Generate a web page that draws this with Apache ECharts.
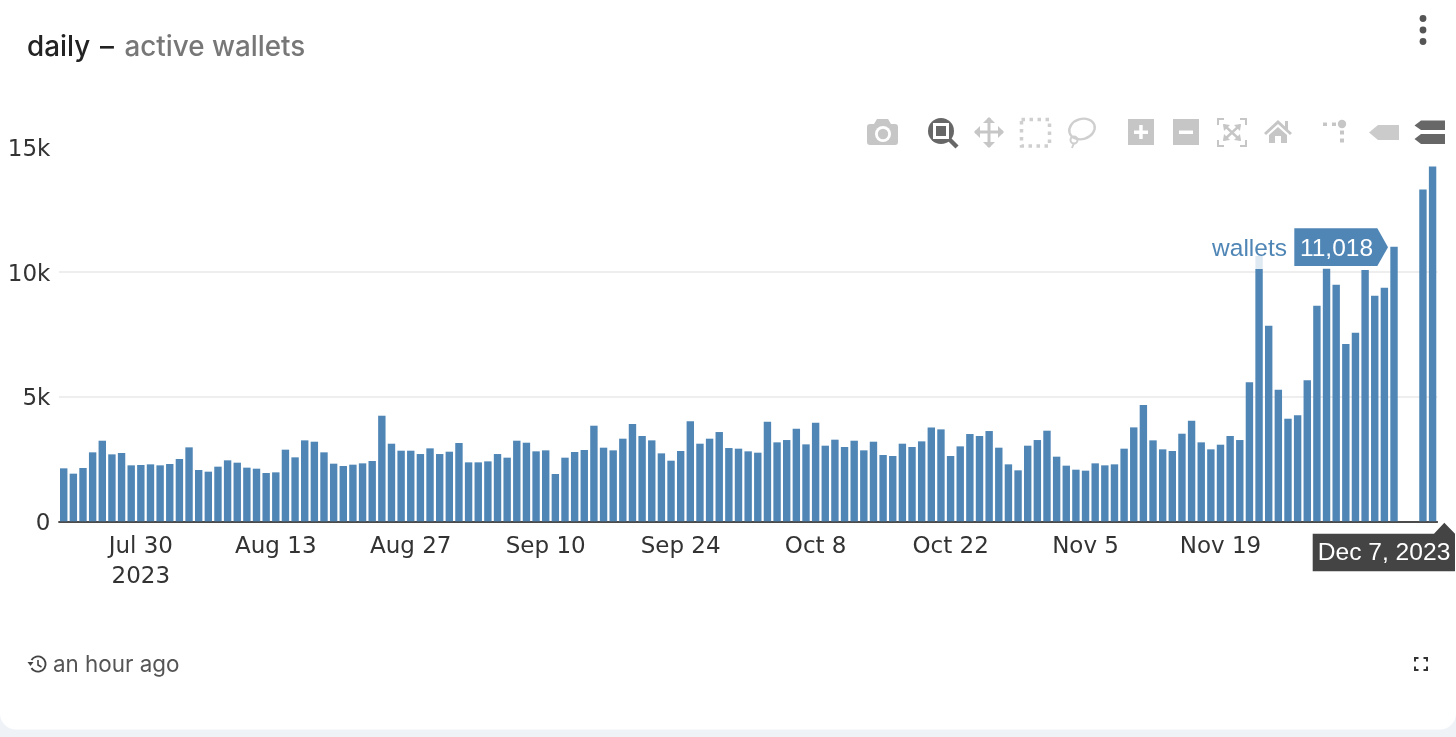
<!DOCTYPE html>
<html>
<head>
<meta charset="utf-8">
<style>
html,body{margin:0;padding:0;width:1456px;height:737px;overflow:hidden;background:#eff3f7}
#c{width:1456px;height:737px}
</style>
<script src="https://cdn.jsdelivr.net/npm/echarts@6/dist/echarts.min.js"></script>
</head>
<body>
<div id="c"></div>
<script>
const categories = [
"Jul 22","Jul 23","Jul 24","Jul 25","Jul 26","Jul 27","Jul 28","Jul 29","Jul 30","Jul 31",
"Aug 1","Aug 2","Aug 3","Aug 4","Aug 5","Aug 6","Aug 7","Aug 8","Aug 9","Aug 10","Aug 11","Aug 12","Aug 13","Aug 14","Aug 15","Aug 16","Aug 17","Aug 18","Aug 19","Aug 20","Aug 21","Aug 22","Aug 23","Aug 24","Aug 25","Aug 26","Aug 27","Aug 28","Aug 29","Aug 30","Aug 31",
"Sep 1","Sep 2","Sep 3","Sep 4","Sep 5","Sep 6","Sep 7","Sep 8","Sep 9","Sep 10","Sep 11","Sep 12","Sep 13","Sep 14","Sep 15","Sep 16","Sep 17","Sep 18","Sep 19","Sep 20","Sep 21","Sep 22","Sep 23","Sep 24","Sep 25","Sep 26","Sep 27","Sep 28","Sep 29","Sep 30",
"Oct 1","Oct 2","Oct 3","Oct 4","Oct 5","Oct 6","Oct 7","Oct 8","Oct 9","Oct 10","Oct 11","Oct 12","Oct 13","Oct 14","Oct 15","Oct 16","Oct 17","Oct 18","Oct 19","Oct 20","Oct 21","Oct 22","Oct 23","Oct 24","Oct 25","Oct 26","Oct 27","Oct 28","Oct 29","Oct 30","Oct 31",
"Nov 1","Nov 2","Nov 3","Nov 4","Nov 5","Nov 6","Nov 7","Nov 8","Nov 9","Nov 10","Nov 11","Nov 12","Nov 13","Nov 14","Nov 15","Nov 16","Nov 17","Nov 18","Nov 19","Nov 20","Nov 21","Nov 22","Nov 23","Nov 24","Nov 25","Nov 26","Nov 27","Nov 28","Nov 29","Nov 30",
"Dec 1","Dec 2","Dec 3","Dec 4","Dec 5","Dec 6","Dec 7","Dec 8","Dec 9","Dec 10","Dec 11"];
const wallets = [
2126,1912,2139,2768,3235,2687,2741,2246,2260,2286,2246,2300,2500,2968,2059,1992,2193,2447,2353,2153,
2112,1939,1965,2875,2567,3249,3195,2768,2313,2219,2273,2326,2420,4238,3115,2834,2834,2700,2928,2700,
2794,3142,2366,2366,2406,2700,2554,3235,3155,2808,2848,1899,2554,2781,2861,3837,2955,2848,3316,3904,
3423,3249,2727,2433,2821,4011,3115,3316,3583,2941,2915,2808,2754,3998,3169,3262,3717,3088,3958,3035,
3276,2982,3235,2848,3195,2661,2621,3115,2982,3209,3770,3690,2621,3008,3503,3423,3623,2955,2286,2046,
3035,3262,3637,2594,2233,2072,2032,2326,2246,2286,2915,3770,4666,3249,2888,2821,3516,4038,3169,2888,
3075,3423,3262,5577,10650,7850,5283,4118,4252,5658,8652,10136,9495,7115,7568,10084,9053,9374,11018,0,
0,13323,14246];
const xTickLabels = {"Jul 30":"Jul 30\n2023","Aug 13":"Aug 13","Aug 27":"Aug 27","Sep 10":"Sep 10","Sep 24":"Sep 24","Oct 8":"Oct 8","Oct 22":"Oct 22","Nov 5":"Nov 5","Nov 19":"Nov 19"};
const yTickLabels = {0:"0",5000:"5k",10000:"10k",15000:"15k"};
const seriesName = "wallets";

const L='#c6c6c6', D='#676767', BLUE='#4f86b6';
const sq=(x,y,w,h,f)=>({type:'rect',shape:{x,y,width:w,height:h},style:{fill:f},z:50});
const ln=(x1,y1,x2,y2,c,w)=>({type:'line',shape:{x1,y1,x2,y2},style:{stroke:c,lineWidth:w,lineCap:'butt'},z:50});
const circ=(cx,cy,r,f)=>({type:'circle',shape:{cx,cy,r},style:{fill:f},z:50});
const poly=(points,f)=>({type:'polygon',shape:{points},style:{fill:f},z:50});
const pline=(points,c,w)=>({type:'polyline',shape:{points},style:{stroke:c,lineWidth:w,fill:null},z:50});
const txt=(x,y,text,font,fill,align)=>({type:'text',x,y,style:{text,font,fill,align:align||'left',verticalAlign:'middle'},z:60});
const corners=(x0,y0,x1,y1,l,c,w)=>[
 pline([[x0,y0+l],[x0,y0],[x0+l,y0]],c,w),pline([[x1-l,y0],[x1,y0],[x1,y0+l]],c,w),
 pline([[x0,y1-l],[x0,y1],[x0+l,y1]],c,w),pline([[x1-l,y1],[x1,y1],[x1,y1-l]],c,w)];

const graphics = [
 {type:'rect',shape:{x:0,y:-30,width:1456,height:759.5,r:16},style:{fill:'#fff'},z:-10,silent:true},
 // title
 txt(27,48,'daily','500 27.8px Inter','#222'),
 txt(100,48,'–','500 27.8px Inter','#222'),
 txt(124.5,48,'active wallets','500 27.8px Inter','#777'),
 // menu dots
 circ(1423,18.5,3.4,'#555'),circ(1423,30,3.4,'#555'),circ(1423,41.5,3.4,'#555'),
 // camera
 {type:'rect',shape:{x:867,y:124,width:31,height:21,r:3},style:{fill:L},z:50},
 poly([[874,124],[877,119],[888,119],[891,124]],L),
 circ(883,134,8,'#fff'),circ(883,134,5.2,L),
 // zoom (active)
 ln(949,139,957,147,D,4.5),
 circ(941,131,13,D),sq(933,123,16,16,'#fff'),sq(936,126,10,10,D),
 // pan
 ln(975,132,1003,132,L,3),ln(989,118,989,147,L,3),
 poly([[974,132],[980,126],[980,138]],L),poly([[1004,132],[998,126],[998,138]],L),
 poly([[989,117],[983,123],[995,123]],L),poly([[989,148],[983,142],[995,142]],L),
 // box select
 {type:'rect',shape:{x:1021.5,y:119.5,width:28,height:26.5},style:{fill:null,stroke:'#cfcfcf',lineWidth:3.5,lineDash:[3.5,4.5]},z:50},
 // lasso
 {type:'ellipse',shape:{cx:1082,cy:129,rx:13,ry:10},rotation:0.3,originX:1082,originY:129,style:{fill:null,stroke:'#cfcfcf',lineWidth:2.4},z:50},
 {type:'circle',shape:{cx:1074,cy:140,r:3.5},style:{fill:null,stroke:'#cfcfcf',lineWidth:2},z:50},
 ln(1074,143,1072,148,'#cfcfcf',2),
 // zoom in
 sq(1128,119,26,26,L),sq(1134,130.5,14,3.5,'#fff'),sq(1139.2,125,3.5,14,'#fff'),
 // zoom out
 sq(1173,119,26,26,L),sq(1179,130.5,14,3.5,'#fff'),
 // autoscale
 ...corners(1218,119,1246,146,6,L,2),
 ln(1224,125,1240,140,L,2.4),ln(1240,125,1224,140,L,2.4),
 poly([[1223,124],[1230,125],[1224,131]],L),poly([[1241,124],[1234,125],[1240,131]],L),
 poly([[1223,141],[1230,140],[1224,134]],L),poly([[1241,141],[1234,140],[1240,134]],L),
 // home
 poly([[1264,133],[1278,120],[1285,126.5],[1285,121],[1288,121],[1288,129.5],[1292,133],[1290,135],[1278,124],[1266,135]],L),
 poly([[1269,135],[1278,127],[1287,135],[1287,143],[1281,143],[1281,136],[1275,136],[1275,143],[1269,143]],L),
 // spikes
 sq(1323,122.5,4,3.5,L),sq(1332,122.5,4,3.5,L),circ(1342,124,4.2,L),sq(1340,130.5,4,4,L),sq(1340,138.5,4,4,L),
 // hover closest
 poly([[1369,132.5],[1378,125],[1399,125],[1399,140],[1378,140]],'#cbcbcb'),
 // hover compare
 poly([[1414.5,125.5],[1421,120.5],[1445,120.5],[1445,130],[1421,130]],D),
 poly([[1414.5,139],[1421,134],[1445,134],[1445,144],[1421,144]],D),
 // hover label for Dec 7
 {type:'rect',shape:{x:1206,y:229,width:88,height:40},style:{fill:'rgba(255,255,255,0.82)'},z:40},
 txt(1287,249,seriesName,'24.5px "Liberation Sans"',BLUE,'right'),
 poly([[1294.3,228.3],[1377.3,228.3],[1388,247.3],[1377.3,266],[1294.3,266]],BLUE),
 txt(1336.5,249,'11,018','24.5px "Liberation Sans"','#fff','center'),
 // hover date label
 poly([[1312.7,533.7],[1434,533.7],[1444.3,522.7],[1455,533.7],[1455,571.3],[1312.7,571.3]],'#444'),
 txt(1384,553.5,'Dec 7, 2023','24.6px "Liberation Sans"','#fff','center'),
 // footer
 {type:'arc',shape:{cx:38,cy:664,r:7.6,startAngle:-2.6,endAngle:2.6,clockwise:true},style:{fill:null,stroke:'#444',lineWidth:1.9},z:50},
 poly([[27.5,662],[33.5,662],[30.5,666]],'#444'),
 pline([[38,660],[38,665],[41.5,667]],'#444',1.6),
 txt(53,665.5,'an hour ago','22.4px Inter','#555'),
 // fullscreen
 ...corners(1415,658,1427,670,3.5,'#333',2)
];

const chart = echarts.init(document.getElementById('c'),null,{renderer:'canvas'});
chart.setOption({
 animation:false,
 backgroundColor:'transparent',
 grid:{left:58.9,top:147.6,width:1378.5,height:373.7,containLabel:false},
 tooltip:{show:false},
 xAxis:{
  type:'category',data:categories,boundaryGap:true,
  axisLine:{show:true,lineStyle:{color:'#111',width:1.5}},
  axisTick:{show:false},
  splitLine:{show:false},
  axisLabel:{
   interval:(i,v)=>v in xTickLabels,
   formatter:v=>xTickLabels[v]||'',
   hideOverlap:false,
   margin:11,fontFamily:'"DejaVu Sans"',fontSize:23,lineHeight:30,color:'#333'
  }
 },
 yAxis:{
  type:'value',min:0,max:15000,interval:5000,
  axisLine:{show:false},axisTick:{show:false},
  splitLine:{show:true,showMinLine:false,showMaxLine:false,lineStyle:{color:'#e8e8e8',width:1.5}},
  axisLabel:{formatter:v=>yTickLabels[v],margin:8.5,verticalAlign:'top',lineHeight:5,fontFamily:'"DejaVu Sans"',fontSize:23,color:'#333'}
 },
 series:[{name:seriesName,type:'bar',data:wallets,barWidth:7.4,itemStyle:{color:BLUE},silent:true,z:3}],
 graphic:{elements:graphics}
});
</script>
</body>
</html>
